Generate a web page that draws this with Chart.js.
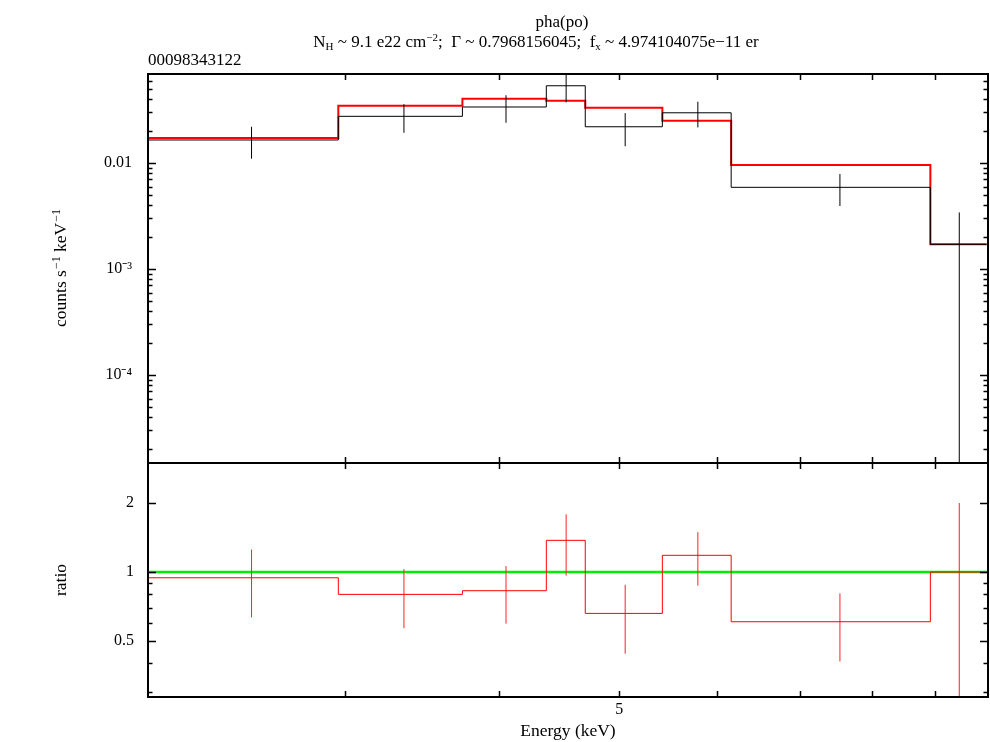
<!DOCTYPE html>
<html>
<head>
<meta charset="utf-8">
<title>pha(po)</title>
<script src="https://cdn.jsdelivr.net/npm/chart.js@4.4.1/dist/chart.umd.min.js"></script>
<style>
  body { margin: 0; background: #fff; }
  #wrap { position: relative; width: 990px; height: 742px; font-family: 'Liberation Serif', 'Times New Roman', serif; color: #000; }
  #wrap canvas { position: absolute; left: 0; top: 0; }
  .txt { position: absolute; white-space: nowrap; font-size: 17px; line-height: 17px; }
  .c { transform: translateX(-50%); }
  .rot { transform: translate(-50%, -50%) rotate(-90deg); font-size: 17.5px; }
  sub, sup { font-size: 11px; line-height: 0; }
  sub { vertical-align: -3px; }
  sup { vertical-align: 6px; }
  .rot sup { font-size: 12px; margin-left: 1px; }
</style>
</head>
<body>
<div id="wrap">
  <canvas id="spec" width="990" height="742"></canvas>
  <div class="txt c" style="left:562px; top:13px;">pha(po)</div>
  <div class="txt c" style="left:536px; top:33px;">N<sub>H</sub> ~ 9.1 e22 cm<sup>−2</sup>;&nbsp; Γ ~ 0.7968156045;&nbsp; f<sub>x</sub> ~ 4.974104075e−11 er</div>
  <div class="txt" style="left:148px; top:51px;">00098343122</div>
  <div class="txt rot" style="left:60px; top:268px;">counts s<sup>−1</sup> keV<sup>−1</sup></div>
  <div class="txt rot" style="left:60px; top:580px;">ratio</div>
</div>
<script>
// energy bins (keV)
const binLo = [2.08, 2.964, 3.734, 4.365, 4.693, 5.417, 6.157, 8.92];
const binHi = [2.964, 3.734, 4.365, 4.693, 5.417, 6.157, 8.92, 9.906];

// top panel: counts s^-1 keV^-1
const rate    = [0.0165, 0.0276, 0.0338, 0.0536, 0.0220, 0.0298, 0.0059, 0.00171];
const rateErr = [0.0055, 0.0083, 0.0098, 0.0162, 0.0076, 0.0081, 0.00197, 0.00171];
const model   = [0.0172, 0.0347, 0.0404, 0.0387, 0.0332, 0.0251, 0.00958, 0.00171];

// bottom panel: data / model
const ratio    = [0.944, 0.799, 0.829, 1.375, 0.660, 1.183, 0.607, 1.0];
const ratioErr = [0.31, 0.23, 0.233, 0.41, 0.22, 0.31, 0.20, 1.0];

// tick values and labels
const xTicks = [3, 4, 5, 6, 7, 8, 9];
const xLabels = {5: '5'};
const countMajor = [1e-4, 1e-3, 1e-2];
const countLabels = ['10⁻⁴', '10⁻³', '0.01'];
const ratioMajor = [0.5, 1, 2];
const ratioLabels = ['0.5', '1', '2'];
const ratioMinor = [0.3, 0.4, 0.6, 0.7, 0.8, 0.9];

const xMin = 2.08, xMax = 9.93;
const countMin = 1.48e-5, countMax = 0.0692;
const ratioMin = 0.285, ratioMax = 2.99;

const font = { family: "'Liberation Serif', 'Times New Roman', serif", size: 16 };
const titleFont = { family: "'Liberation Serif', 'Times New Roman', serif", size: 17.5 };

// minor ticks 2..9 in each decade of the counts axis
const countTicks = [];
[1e-5, 1e-4, 1e-3, 1e-2].forEach(d => {
    for (let m = 1; m < 10; m++) {
        const v = +(m * d).toPrecision(3);
        if (v >= countMin && v <= countMax) countTicks.push(v);
    }
});

function stepPoints(vals) {
    const pts = binLo.map((x, i) => ({ x: x, y: vals[i] }));
    pts.push({ x: binHi[binHi.length - 1], y: vals[vals.length - 1] });
    return pts;
}

function errPoints(vals, errs) {
    const pts = [];
    vals.forEach((v, i) => {
        const c = (binLo[i] + binHi[i]) / 2;
        pts.push({ x: c, y: Math.max(v - errs[i], 1e-9) });
        pts.push({ x: c, y: v + errs[i] });
        pts.push({ x: c, y: null });
    });
    return pts;
}

// clip each dataset to its own panel
const panelClip = {
    id: 'panelClip',
    beforeDatasetDraw(chart, args) {
        const ys = chart.scales[args.meta.yAxisID];
        const ca = chart.chartArea;
        chart.ctx.save();
        chart.ctx.beginPath();
        chart.ctx.rect(ca.left, ys.top, ca.right - ca.left, ys.bottom - ys.top);
        chart.ctx.clip();
    },
    afterDatasetDraw(chart) {
        chart.ctx.restore();
    }
};

// frame and inward ticks, as in the XSPEC plot
const frame = {
    id: 'frame',
    afterDraw(chart) {
        const { ctx, chartArea: ca, scales } = chart;
        const panels = [scales.yCounts, scales.yRatio];
        ctx.save();
        ctx.strokeStyle = '#000';
        ctx.lineWidth = 1.5;
        ctx.beginPath();
        panels.forEach(s => {
            s.ticks.forEach(t => {
                const py = Math.round(s.getPixelForValue(t.value)) + 0.5;
                const len = t.label ? 8 : 4.5;
                ctx.moveTo(ca.left, py); ctx.lineTo(ca.left + len, py);
                ctx.moveTo(ca.right, py); ctx.lineTo(ca.right - len, py);
            });
            scales.x.ticks.forEach(t => {
                const px = Math.round(scales.x.getPixelForValue(t.value)) + 0.5;
                ctx.moveTo(px, s.top); ctx.lineTo(px, s.top + 6);
                ctx.moveTo(px, s.bottom); ctx.lineTo(px, s.bottom - 6);
            });
        });
        ctx.stroke();
        ctx.lineWidth = 2;
        ctx.strokeRect(ca.left, ca.top, ca.right - ca.left, ca.bottom - ca.top);
        ctx.beginPath();
        ctx.moveTo(ca.left, scales.yCounts.bottom);
        ctx.lineTo(ca.right, scales.yCounts.bottom);
        ctx.stroke();
        ctx.restore();
    }
};

const lineBase = { pointRadius: 0, fill: false, tension: 0, spanGaps: false, xAxisID: 'x' };

new Chart(document.getElementById('spec'), {
    type: 'line',
    data: {
        datasets: [
            Object.assign({}, lineBase, {
                label: 'data', yAxisID: 'yCounts', data: stepPoints(rate),
                stepped: true, borderColor: '#000', borderWidth: 1
            }),
            Object.assign({}, lineBase, {
                label: 'data errors', yAxisID: 'yCounts', data: errPoints(rate, rateErr),
                borderColor: '#000', borderWidth: 1
            }),
            Object.assign({}, lineBase, {
                label: 'model', yAxisID: 'yCounts', data: stepPoints(model),
                stepped: true, borderColor: '#ff0000', borderWidth: 2
            }),
            Object.assign({}, lineBase, {
                label: 'ratio', yAxisID: 'yRatio', data: stepPoints(ratio),
                stepped: true, borderColor: '#ff0000', borderWidth: 1
            }),
            Object.assign({}, lineBase, {
                label: 'ratio errors', yAxisID: 'yRatio', data: errPoints(ratio, ratioErr),
                borderColor: '#ff2020', borderWidth: 1
            }),
            Object.assign({}, lineBase, {
                label: 'unity', yAxisID: 'yRatio', data: [{ x: xMin, y: 1 }, { x: xMax, y: 1 }],
                borderColor: '#00ee00', borderWidth: 2.5
            })
        ]
    },
    options: {
        responsive: false,
        animation: false,
        layout: { padding: { top: 74, right: 2, left: 0, bottom: 0 } },
        plugins: { legend: { display: false }, tooltip: { enabled: false } },
        scales: {
            x: {
                type: 'logarithmic',
                position: 'bottom',
                min: xMin,
                max: xMax,
                bounds: 'data',
                grid: { display: false, drawTicks: false },
                border: { display: false },
                afterFit: s => { s.height = 45; },
                afterBuildTicks: s => { s.ticks = xTicks.map(v => ({ value: v })); },
                ticks: {
                    autoSkip: false, maxRotation: 0, padding: 3, font: font, color: '#000',
                    callback: v => xLabels[v] || ''
                },
                title: { display: true, text: 'Energy (keV)', font: titleFont, color: '#000', padding: { top: 0, bottom: 0 } }
            },
            yRatio: {
                type: 'logarithmic',
                position: 'left',
                stack: 'panels',
                stackWeight: 234,
                weight: 0,
                min: ratioMin,
                max: ratioMax,
                bounds: 'data',
                grid: { display: false, drawTicks: false },
                border: { display: false },
                afterFit: s => { s.width = 148; },
                afterBuildTicks: s => {
                    s.ticks = ratioMajor.concat(ratioMinor).sort((a, b) => a - b).map(v => ({ value: v }));
                },
                ticks: {
                    autoSkip: false, padding: 14, font: font, color: '#000',
                    callback: v => {
                        const i = ratioMajor.indexOf(v);
                        return i >= 0 ? ratioLabels[i] : '';
                    }
                },
                title: { display: false }
            },
            yCounts: {
                type: 'logarithmic',
                position: 'left',
                stack: 'panels',
                stackWeight: 389,
                weight: 1,
                min: countMin,
                max: countMax,
                bounds: 'data',
                grid: { display: false, drawTicks: false },
                border: { display: false },
                afterFit: s => { s.width = 148; },
                afterBuildTicks: s => { s.ticks = countTicks.map(v => ({ value: v })); },
                ticks: {
                    autoSkip: false, padding: 16, font: font, color: '#000',
                    callback: v => {
                        const i = countMajor.findIndex(m => Math.abs(m - v) < m * 1e-6);
                        return i >= 0 ? countLabels[i] : '';
                    }
                },
                title: { display: false }
            }
        }
    },
    plugins: [panelClip, frame]
});
</script>
</body>
</html>
